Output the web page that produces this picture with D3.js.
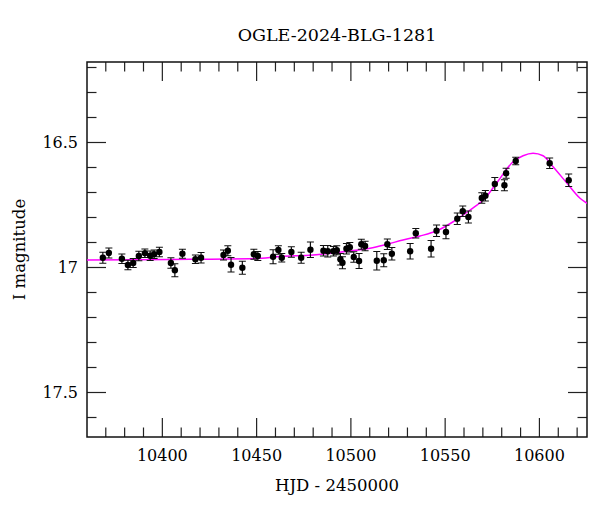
<!DOCTYPE html>
<html>
<head>
<meta charset="utf-8">
<script src="https://cdn.jsdelivr.net/npm/d3@7"></script>
<style>
  html, body { margin: 0; padding: 0; background: #fff; }
  svg { display: block; }
  text { font-family: "DejaVu Serif", serif; fill: #000; }
</style>
</head>
<body>
<svg id="chart" width="600" height="512"></svg>
<script>
// ---- data ----
const title = "OGLE-2024-BLG-1281";
const xLabel = "HJD - 2450000";
const yLabel = "I magnitude";

const hjd = [10368.7, 10371.9, 10378.8, 10382.0, 10384.8, 10387.8, 10391.0, 10393.8, 10395.9, 10398.7,
             10404.8, 10406.9, 10410.9, 10417.8, 10420.8, 10432.7, 10435.0, 10436.7, 10442.7, 10448.8,
             10450.9, 10459.0, 10461.8, 10463.6, 10468.7, 10473.9, 10478.8, 10485.7, 10488.0, 10491.0,
             10492.8, 10494.7, 10495.8, 10497.9, 10499.7, 10501.8, 10504.6, 10505.8, 10507.8, 10514.0,
             10517.7, 10519.6, 10522.0, 10531.7, 10534.7, 10542.8, 10545.7, 10550.7, 10556.7, 10559.6,
             10562.6, 10569.7, 10571.6, 10576.6, 10581.7, 10582.6, 10587.7, 10605.7, 10615.8];
const mag = [16.963, 16.944, 16.967, 16.992, 16.984, 16.956, 16.945, 16.955, 16.949, 16.940,
             16.984, 17.013, 16.947, 16.969, 16.963, 16.952, 16.935, 16.991, 17.003, 16.949,
             16.956, 16.959, 16.932, 16.963, 16.940, 16.963, 16.931, 16.935, 16.937, 16.937,
             16.933, 16.969, 16.983, 16.927, 16.921, 16.960, 16.976, 16.909, 16.916, 16.975,
             16.973, 16.909, 16.947, 16.937, 16.865, 16.927, 16.855, 16.860, 16.807, 16.777,
             16.800, 16.724, 16.715, 16.668, 16.673, 16.625, 16.576, 16.585, 16.653];
const err = [0.022, 0.020, 0.019, 0.019, 0.018, 0.019, 0.017, 0.019, 0.017, 0.019,
             0.021, 0.026, 0.018, 0.017, 0.021, 0.020, 0.020, 0.029, 0.026, 0.020,
             0.018, 0.028, 0.017, 0.017, 0.021, 0.022, 0.031, 0.021, 0.023, 0.019,
             0.018, 0.023, 0.024, 0.021, 0.019, 0.021, 0.030, 0.020, 0.019, 0.037,
             0.026, 0.021, 0.025, 0.031, 0.019, 0.033, 0.023, 0.027, 0.023, 0.021,
             0.024, 0.021, 0.021, 0.026, 0.022, 0.020, 0.015, 0.021, 0.025];

// model curve, points
const modelT = [10355.0, 10360.4, 10405.0, 10449.7, 10462.7, 10480.2, 10498.3, 10510.4, 10519.4, 10527.9,
                10536.9, 10545.9, 10554.5, 10563.5, 10571.4, 10577.8, 10586.3, 10591.6, 10596.9,
                10602.2, 10607.5, 10614.9, 10621.8, 10625.5, 10630.0];
const modelM = [16.973, 16.972, 16.970, 16.966, 16.958, 16.952, 16.937, 16.925, 16.909, 16.892,
                16.876, 16.855, 16.819, 16.772, 16.725, 16.662, 16.579, 16.555, 16.545,
                16.555, 16.599, 16.665, 16.725, 16.745, 16.770];

const xDomain = [10360.3, 10625.5];
const yDomain = [16.18, 17.68];
const xMajor = [10400, 10450, 10500, 10550, 10600];
const xMinorStep = 10;
const yMajor = [16.5, 17, 17.5];
const yMajorLabels = ["16.5", "17", "17.5"];
const yMinorStep = 0.1;

// ---- layout ----
const svg = d3.select("#chart");
const L = 87, R = 587, T = 62, B = 437;
const x = d3.scaleLinear().domain(xDomain).range([L, R]);
const y = d3.scaleLinear().domain(yDomain).range([T, B]);

const majLen = 19, minLen = 9.5;

svg.append("defs").append("clipPath").attr("id", "clip")
  .append("rect").attr("x", L).attr("y", T).attr("width", R - L).attr("height", B - T);

// minor tick values
const xMinor = d3.range(Math.ceil(xDomain[0] / xMinorStep) * xMinorStep, xDomain[1], xMinorStep)
  .filter(v => !xMajor.some(m => Math.abs(m - v) < 1e-6));
const yMinor = d3.range(Math.ceil(yDomain[0] / yMinorStep - 1e-9), Math.floor(yDomain[1] / yMinorStep + 1e-9) + 1)
  .map(k => +(k * yMinorStep).toFixed(2))
  .filter(v => !yMajor.some(m => Math.abs(m - v) < 1e-6));

// axes (inward ticks on all sides)
const gx = svg.append("g").attr("transform", `translate(0,${B})`)
  .call(d3.axisBottom(x).tickValues(xMajor).tickSize(-majLen).tickPadding(13).tickFormat(d3.format("d")));
const gxMinor = svg.append("g").attr("transform", `translate(0,${B})`)
  .call(d3.axisBottom(x).tickValues(xMinor).tickSize(-minLen).tickFormat(""));
const gxTop = svg.append("g").attr("transform", `translate(0,${T})`)
  .call(d3.axisTop(x).tickValues(xMajor).tickSize(-majLen).tickFormat(""));
const gxTopMinor = svg.append("g").attr("transform", `translate(0,${T})`)
  .call(d3.axisTop(x).tickValues(xMinor).tickSize(-minLen).tickFormat(""));

const gy = svg.append("g").attr("transform", `translate(${L},0)`)
  .call(d3.axisLeft(y).tickValues(yMajor).tickSize(-majLen).tickPadding(9)
    .tickFormat((d, i) => yMajorLabels[i]));
const gyMinor = svg.append("g").attr("transform", `translate(${L},0)`)
  .call(d3.axisLeft(y).tickValues(yMinor).tickSize(-minLen).tickFormat(""));
const gyR = svg.append("g").attr("transform", `translate(${R},0)`)
  .call(d3.axisRight(y).tickValues(yMajor).tickSize(-majLen).tickFormat(""));
const gyRMinor = svg.append("g").attr("transform", `translate(${R},0)`)
  .call(d3.axisRight(y).tickValues(yMinor).tickSize(-minLen).tickFormat(""));

[gx, gxMinor, gxTop, gxTopMinor, gy, gyMinor, gyR, gyRMinor].forEach(g => {
  g.select(".domain").remove();
  g.selectAll(".tick line").attr("stroke", "#222").attr("stroke-width", 1.2);
  g.selectAll(".tick text").style("font-family", "DejaVu Serif, serif").style("font-size", "16px").attr("fill", "#000");
});

// frame
svg.append("rect").attr("x", L).attr("y", T).attr("width", R - L).attr("height", B - T)
  .attr("fill", "none").attr("stroke", "#111").attr("stroke-width", 1.5);

// model curve
const line = d3.line().x(d => x(d[0])).y(d => y(d[1])).curve(d3.curveMonotoneX);
svg.append("path")
  .datum(modelT.map((t, i) => [t, modelM[i]]))
  .attr("clip-path", "url(#clip)")
  .attr("d", line)
  .attr("fill", "none").attr("stroke", "#ff00ff").attr("stroke-width", 1.5);

// data points
const pts = hjd.map((t, i) => ({ t, m: mag[i], e: err[i] }));
const gp = svg.append("g").attr("clip-path", "url(#clip)");
const capW = 3.5;
gp.selectAll("path.eb").data(pts).join("path").attr("class", "eb")
  .attr("d", d => {
    const cx = x(d.t), y1 = y(d.m - d.e), y2 = y(d.m + d.e);
    return `M${cx},${y1}V${y2}M${cx - capW},${y1}H${cx + capW}M${cx - capW},${y2}H${cx + capW}`;
  })
  .attr("stroke", "#111").attr("stroke-width", 1.2).attr("fill", "none");
gp.selectAll("circle").data(pts).join("circle")
  .attr("cx", d => x(d.t)).attr("cy", d => y(d.m)).attr("r", 3.2).attr("fill", "#000");

// texts
svg.append("text").attr("x", (L + R) / 2).attr("y", 41).attr("text-anchor", "middle")
  .style("font-size", "17.5px").text(title);
svg.append("text").attr("x", (L + R) / 2).attr("y", 491).attr("text-anchor", "middle")
  .style("font-size", "16.5px").text(xLabel);
svg.append("text").attr("transform", `translate(25,${(T + B) / 2}) rotate(-90)`).attr("text-anchor", "middle")
  .style("font-size", "16.5px").text(yLabel);
</script>
</body>
</html>
